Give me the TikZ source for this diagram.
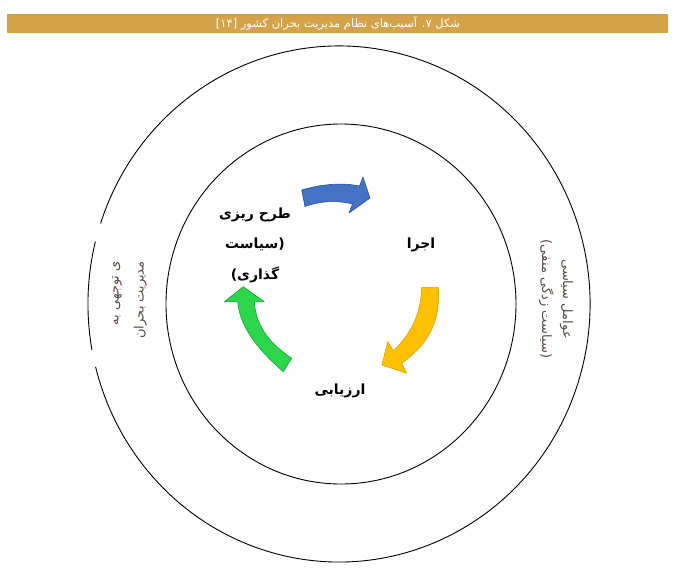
\documentclass[tikz,border=0pt]{standalone}
\usepackage{fontspec}
\newfontfamily\fa[Script=Arabic]{DejaVu Sans}
\TeXXeTstate=1
\definecolor{titlebar}{HTML}{D4A348}
\definecolor{sidetext}{HTML}{5B4A46}
\definecolor{bluefill}{HTML}{4472C4}
\definecolor{blueedge}{HTML}{2F528F}
\definecolor{yellowfill}{HTML}{FFC000}
\definecolor{yellowedge}{HTML}{D9A300}
\definecolor{greenfill}{HTML}{2BD64B}
\definecolor{greenedge}{HTML}{1E9E38}
\tikzset{
  ring/.style={draw=black, line width=0.9pt},
  titletext/.style={text=white, font=\fa\fontsize{11.5}{13}\selectfont, inner sep=0pt},
  stagetext/.style={text=black, font=\fa\bfseries\fontsize{14}{30.5}\selectfont, align=center, inner sep=0pt},
  sidelabel/.style={text=sidetext, inner sep=0pt},
  cyclearrow/.style={line width=0.6pt, line join=round}
}
\begin{document}
\begin{tikzpicture}[x=1pt,y=-1pt]
\useasboundingbox (0,0) rectangle (679,575);
\fill[white] (0,0) rectangle (679,575);
% title bar
\fill[titlebar] (7,14) rectangle (668,33);
\node[titletext] (title) at (338,23.5) {\beginR شکل ۷. آسیب^^^^200cهای نظام مدیریت بحران کشور [۱۴]\endR};
% outer ring (with two small breaks on the left)
\draw[ring] (100.6,223.4) arc[start angle=198.2, end angle=525.9, x radius=251, y radius=258];
\draw[ring] (92.0,350.1) arc[start angle=169.7, end angle=194.0, x radius=251, y radius=258];
% inner ring
\draw[ring] (341,304) ellipse [x radius=175, y radius=180];
% blue arrow (top)
\filldraw[cyclearrow, fill=bluefill, draw=blueedge]
  (301.7,190) .. controls (318,185) and (340,182) .. (359.5,186)
  -- (363,177) -- (370,198) -- (349,213) -- (352.5,204)
  .. controls (337,200) and (320,201) .. (305,206.5) -- cycle;
% yellow arrow (right)
\filldraw[cyclearrow, fill=yellowfill, draw=yellowedge]
  (421.7,287.3) -- (438.3,287.3) .. controls (440,315) and (434,340) .. (401.7,363.3)
  -- (406.7,373.3) -- (382,365) -- (387.7,341.5) -- (393.3,350.7)
  .. controls (410,335) and (421,315) .. (421.7,287.3) -- cycle;
% green arrow (left)
\filldraw[cyclearrow, fill=greenfill, draw=greenedge]
  (283.3,371.7) .. controls (263,354) and (240,330) .. (237.7,301.7)
  -- (224.3,301.7) -- (243.3,286.7) -- (264.3,301.7) -- (254.3,301.7)
  .. controls (256,328) and (272,345) .. (291.7,358.3) -- cycle;
% stage labels
\node[stagetext] (plan) at (255,245) {\beginR طرح ریزی\endR\\{\beginR سیاست\endR}(\\){\beginR گذاری\endR}};
\node[stagetext] (exec) at (421,245) {\beginR اجرا\endR};
\node[stagetext] (eval) at (340,391) {\beginR ارزیابی\endR};
% side labels
\node[sidelabel, rotate=90, align=right, font=\fa\fontsize{13}{25}\selectfont] (left) at (129.5,300)
  {\beginR ی توجهی به\endR\\\beginR مدیریت بحران\endR};
\node[sidelabel, rotate=-90, align=center, font=\fa\fontsize{13}{21}\selectfont] (right) at (556,299)
  {\beginR عوامل سیاسی\endR\\){\beginR سیاست زدگی منفی\endR}(};
\end{tikzpicture}
\end{document}
